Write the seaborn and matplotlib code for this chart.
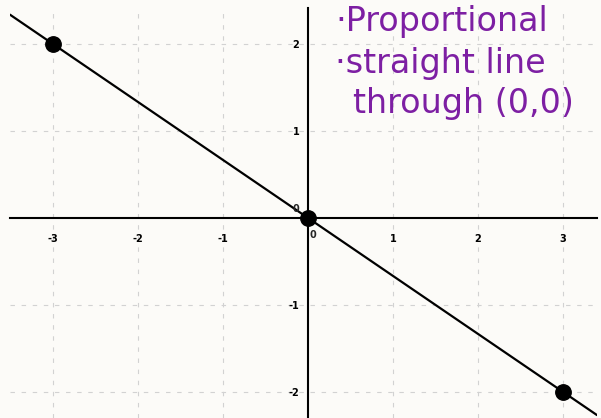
import numpy as np
import pandas as pd
import matplotlib
matplotlib.use("Agg")
import matplotlib.pyplot as plt
import seaborn as sns

# 图上的三个点 (x, y)
x_points = [-3, 0, 3]
y_points = [2, 0, -2]

x_ticks = [-3, -2, -1, 1, 2, 3]
y_ticks = [-2, -1, 1, 2]
x_range = (-3.5, 3.4)
y_range = (-2.3, 2.41)

note_lines = ["·Proportional", "·straight line", "through (0,0)"]

sns.set_theme(style="white")
plt.rcParams['font.family'] = ['DejaVu Sans']

bg = "#fcfbf8"
fig = plt.figure(figsize=(6.01, 4.18), dpi=100, facecolor=bg)
ax = fig.add_axes([10 / 601, 0, 587 / 601, 410 / 418], facecolor=bg)

df = pd.DataFrame({"x": x_points, "y": y_points})

# 网格线 (虚线)
for v in x_ticks:
    ax.axvline(v, color="#d2d2d2", lw=0.8, ls=(0, (4, 6)), zorder=0)
for v in y_ticks:
    ax.axhline(v, color="#d2d2d2", lw=0.8, ls=(0, (4, 6)), zorder=0)

# 直线经过各点
ax.axline((x_points[0], y_points[0]), (x_points[-1], y_points[-1]),
          color="black", lw=1.6, zorder=2)
sns.scatterplot(data=df, x="x", y="y", ax=ax, color="black", s=125,
                edgecolor="black", zorder=3, legend=False)

ax.set_xlim(*x_range)
ax.set_ylim(*y_range)

# 坐标轴放在中间
ax.spines['left'].set_position(('data', 0))
ax.spines['bottom'].set_position(('data', 0))
ax.spines['top'].set_visible(False)
ax.spines['right'].set_visible(False)
for s in ['left', 'bottom']:
    ax.spines[s].set_color("black")
    ax.spines[s].set_linewidth(1.5)

ax.set_xticks(x_ticks)
ax.set_yticks(y_ticks)
ax.set_xticklabels([str(t) for t in x_ticks], fontsize=7, fontweight='bold')
ax.set_yticklabels([str(t) for t in y_ticks], fontsize=7, fontweight='bold')
ax.tick_params(axis='x', direction='inout', length=5, width=1, pad=9, colors="black")
ax.tick_params(axis='y', direction='out', length=3, width=1, pad=3, colors="black")
ax.set_xlabel("")
ax.set_ylabel("")

# 原点的 0 标签
ax.text(-0.14, 0.1, "0", fontsize=7, fontweight='bold', ha='center', va='center')
ax.text(0.06, -0.2, "0", fontsize=7, fontweight='bold', ha='center', va='center')

# 手写注释
purple = "#7d1fa3"
note_pos = [(335, 22), (335, 63), (353, 103)]
for txt, (px, py) in zip(note_lines, note_pos):
    fig.text(px / 601, 1 - py / 418, txt, color=purple, fontsize=24,
             ha='left', va='center')

fig.savefig("out.png", dpi=100, facecolor=bg)
